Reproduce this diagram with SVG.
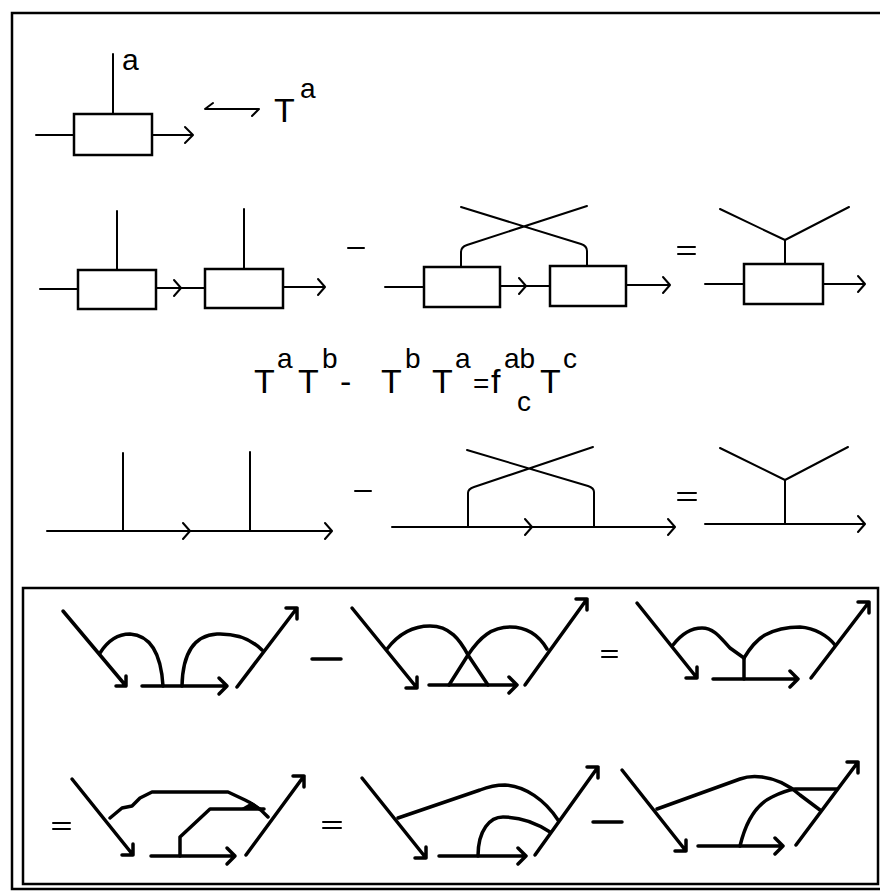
<svg xmlns="http://www.w3.org/2000/svg" width="886" height="892" viewBox="0 0 886 892">
<style>
.l{fill:none;stroke:#000;stroke-width:2;stroke-linecap:round;stroke-linejoin:round}
.b{fill:none;stroke:#000;stroke-width:2.5}
.k{fill:none;stroke:#000;stroke-width:3.5;stroke-linecap:round;stroke-linejoin:round}
.t{font-family:"Liberation Sans",Arial,sans-serif;fill:#000;font-size:34px}
.s{font-family:"Liberation Sans",Arial,sans-serif;fill:#000;font-size:28px}
</style>
<rect width="886" height="892" fill="#fff"/>
<g id="frame">
<path class="b" d="M880,13 H12 V889 H880"/>
<rect class="b" x="23" y="588" width="855" height="296"/>
</g>
<g id="row1">
<line class="l" x1="36" y1="135" x2="74" y2="135"/>
<rect class="b" x="74" y="114" width="78" height="41"/>
<line class="l" x1="113" y1="54" x2="113" y2="114"/>
<path class="l" d="M152,135 H192 M185,127 L193,135 L185,143"/>
<text class="s" x="122" y="70" style="font-size:30px">a</text>
<path class="l" d="M213,103 L205,109 H259 L252,116"/>
<text class="t" x="274" y="122">T</text><text class="s" x="300" y="98">a</text>
</g>
<g id="row2">
<line class="l" x1="40" y1="289" x2="78" y2="289"/>
<rect class="b" x="78" y="270" width="78" height="39"/>
<line class="l" x1="117" y1="211" x2="117" y2="270"/>
<path class="l" d="M156,288 H205 M174,280 L181,288 L174,296"/>
<rect class="b" x="205" y="269" width="78" height="39"/>
<line class="l" x1="244" y1="209" x2="244" y2="269"/>
<path class="l" d="M283,287 H325 M318,279 L325,287 L318,295"/>
<line class="l" x1="348" y1="248" x2="364" y2="248"/>
<line class="l" x1="385" y1="287" x2="424" y2="287"/>
<rect class="b" x="424" y="267" width="76" height="40"/>
<path class="l" d="M500,286 H550 M519,278 L526,286 L519,294"/>
<rect class="b" x="550" y="266" width="76" height="40"/>
<path class="l" d="M626,285 H670 M663,277 L670,285 L663,293"/>
<path class="l" d="M461,267 V252 Q461,247 467,245 L587,206 M587,266 V251 Q587,246 581,244 L461,207"/>
<path class="l" d="M678,247 H695 M678,254 H695"/>
<path class="l" d="M785,264 V240 M720,209 L785,240 L849,207"/>
<rect class="b" x="744" y="264" width="79" height="40"/>
<line class="l" x1="705" y1="284" x2="744" y2="284"/>
<path class="l" d="M823,284 H865 M858,276 L865,284 L858,292"/>
</g>
<g id="formula">
<text class="t" x="254" y="393">T</text><text class="s" x="277" y="368">a</text>
<text class="t" x="298" y="393">T</text><text class="s" x="322" y="368">b</text>
<text class="t" x="340" y="393">-</text>
<text class="t" x="381" y="393">T</text><text class="s" x="405" y="368">b</text>
<text class="t" x="432" y="393">T</text><text class="s" x="455" y="368">a</text>
<text class="s" x="473" y="393">=</text>
<text class="t" x="491" y="393">f</text><text class="s" x="504" y="368">ab</text><text class="s" x="517" y="411">c</text>
<text class="t" x="540" y="393">T</text><text class="s" x="563" y="368">c</text>
</g>
<g id="row4">
<path class="l" d="M47,531 H332 M183,523 L190,531 L183,539 M325,523 L332,531 L325,539"/>
<path class="l" d="M123,453 V531 M250,452 V531"/>
<line class="l" x1="355" y1="491" x2="371" y2="491"/>
<path class="l" d="M392,527 H675 M525,519 L532,527 L525,535 M668,519 L675,527 L668,535"/>
<path class="l" d="M468,527 V493 Q468,489 474,487 L593,447 M594,527 V492 Q594,488 588,486 L467,450"/>
<path class="l" d="M678,493 H696 M678,500 H696"/>
<path class="l" d="M785,524 V480 M720,448 L785,480 L848,447"/>
<path class="l" d="M705,524 H865 M858,516 L865,524 L858,532"/>
</g>
<g id="row5a">
<path class="k" d="M63,611 L126,686 M116,686 H126 V676"/>
<path class="k" d="M100,653 Q112,634 130,634 Q160,636 163,686"/>
<path class="k" d="M142,686 H227 M219,678 L227,686 L219,694"/>
<path class="k" d="M182,686 Q183,636 217,634 Q245,633 262,650"/>
<path class="k" d="M237,687 L297,608 M286,608 H297 V619"/>
</g>
<g id="row5b">
<line class="k" x1="312" y1="659" x2="341" y2="659"/>
<path class="k" d="M352,608 L417,688 M406,688 H417 V677"/>
<path class="k" d="M429,685 H517 M509,677 L517,685 L509,693"/>
<path class="k" d="M387,649 C400,632 415,626 430,626 C450,626 460,640 468,655 L488,685"/>
<path class="k" d="M449,685 L468,655 C480,637 492,627 510,627 C528,627 540,637 547,649"/>
<path class="k" d="M525,685 L587,599 M576,599 H587 V610"/>
</g>
<g id="row5c">
<path class="l" d="M602,651 H617 M602,657 H617"/>
<path class="k" d="M637,603 L697,678 M686,678 H697 V667"/>
<path class="k" d="M713,679 H798 M790,671 L798,679 L790,687"/>
<path class="k" d="M744,679 V658"/>
<path class="k" d="M673,645 C683,632 692,628 702,628 C715,628 722,640 730,648 L744,658"/>
<path class="k" d="M744,658 C750,648 756,640 765,635 C778,628 790,627 800,627 C815,628 828,636 835,645"/>
<path class="k" d="M811,678 L869,602 M858,602 H869 V613"/>
</g>
<g id="row6a">
<path class="l" d="M53,823 H70 M53,829 H70"/>
<path class="k" d="M72,779 L133,855 M122,855 H133 V844"/>
<path class="k" d="M151,856 H235 M227,848 L235,856 L227,864"/>
<path class="k" d="M246,855 L304,776 M293,776 H304 V787"/>
<path class="k" d="M110,818 L122,808 L132,806 L140,798 L152,792 H228 L245,800 Q258,806 268,817"/>
<path class="k" d="M180,856 V837 L210,809 H264"/>
<path d="M240,809 L252,802 L264,810 Z" fill="#000"/>
</g>
<g id="row6b">
<path class="l" d="M323,822 H341 M323,828 H341"/>
<path class="k" d="M362,778 L426,858 M415,858 H426 V847"/>
<path class="k" d="M439,856 H526 M518,848 L526,856 L518,864"/>
<path class="k" d="M535,855 L598,767 M587,767 H598 V778"/>
<path class="k" d="M398,818 L480,790 C490,786 498,785 505,785 C525,786 545,800 558,820"/>
<path class="k" d="M478,856 C478,830 490,817 503,817 C520,817 535,822 550,832"/>
</g>
<g id="row6c">
<line class="k" x1="593" y1="822" x2="622" y2="822"/>
<path class="k" d="M622,770 L686,851 M675,851 H686 V840"/>
<path class="k" d="M698,846 H783 M775,838 L783,846 L775,854"/>
<path class="k" d="M796,845 L858,762 M847,762 H858 V773"/>
<path class="k" d="M657,809 L740,779 C748,776 755,776 762,777 C778,779 790,786 800,795 L820,810"/>
<path class="k" d="M740,846 C745,825 755,805 772,797 C780,793 788,790 795,789 H837"/>
</g>
</svg>
